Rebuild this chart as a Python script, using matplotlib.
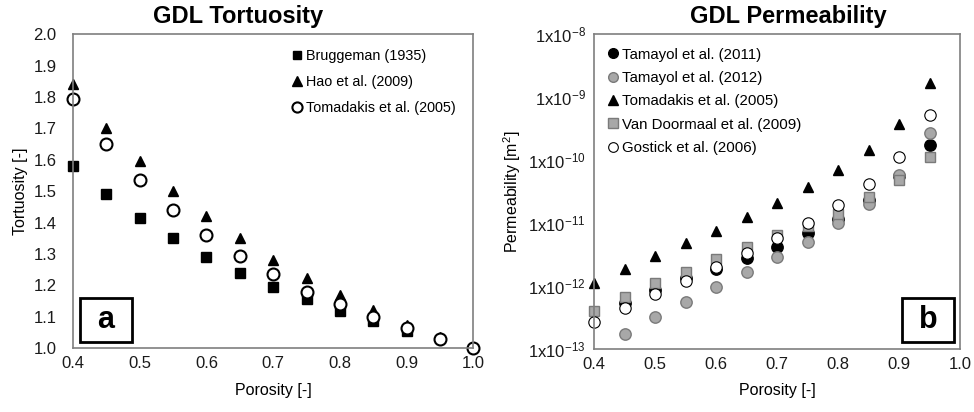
"""GDL tortuosity and permeability versus porosity, two side-by-side panels."""

import numpy as np
import matplotlib
matplotlib.use("Agg")
import matplotlib.pyplot as plt
from matplotlib.patches import Rectangle
from matplotlib.ticker import FixedLocator, NullLocator

plt.rcParams['font.family'] = ['Liberation Sans', 'DejaVu Sans']
plt.rcParams['mathtext.fontset'] = 'custom'
plt.rcParams['mathtext.rm'] = 'Liberation Sans'
plt.rcParams['mathtext.it'] = 'Liberation Sans'

########################################################################################################################
# Data
########################################################################################################################

# (a) tortuosity
por_brug = [0.40, 0.45, 0.50, 0.55, 0.60, 0.65, 0.70, 0.75, 0.80, 0.85, 0.90]
tau_brug = [1.58, 1.49, 1.415, 1.35, 1.29, 1.24, 1.195, 1.155, 1.118, 1.085, 1.054]

por_hao = [0.40, 0.45, 0.50, 0.55, 0.60, 0.65, 0.70, 0.75, 0.80, 0.85, 0.90, 0.95]
tau_hao = [1.84, 1.70, 1.595, 1.50, 1.42, 1.35, 1.28, 1.225, 1.17, 1.12, 1.075, 1.035]

por_toma = [0.40, 0.45, 0.50, 0.55, 0.60, 0.65, 0.70, 0.75, 0.80, 0.85, 0.90, 0.95, 1.00]
tau_toma = [1.795, 1.65, 1.535, 1.44, 1.36, 1.295, 1.235, 1.18, 1.14, 1.10, 1.063, 1.03, 1.00]

# (b) permeability [m^2]
por_b = [0.40, 0.45, 0.50, 0.55, 0.60, 0.65, 0.70, 0.75, 0.80, 0.85, 0.90, 0.95]
por_tam = por_b[1:]
k_tam2011 = [5.4e-13, 8.7e-13, 1.35e-12, 1.85e-12, 2.8e-12, 4.2e-12, 6.9e-12, 1.15e-11, 2.3e-11, 5.6e-11, 1.73e-10]
k_tam2012 = [1.7e-13, 3.2e-13, 5.6e-13, 9.8e-13, 1.66e-12, 2.9e-12, 5.0e-12, 1.0e-11, 2.0e-11, 5.8e-11, 2.7e-10]
k_toma = [1.1e-12, 1.85e-12, 3.0e-12, 4.8e-12, 7.4e-12, 1.26e-11, 2.1e-11, 3.7e-11, 6.9e-11, 1.45e-10, 3.7e-10, 1.67e-9]
k_vand = [4.0e-13, 6.8e-13, 1.1e-12, 1.7e-12, 2.7e-12, 4.2e-12, 6.5e-12, 8.9e-12, 1.4e-11, 2.6e-11, 4.8e-11, 1.12e-10]
k_gost = [2.7e-13, 4.5e-13, 7.4e-13, 1.2e-12, 2.0e-12, 3.4e-12, 5.7e-12, 1.0e-11, 1.95e-11, 4.2e-11, 1.12e-10, 5.2e-10]

perm_ticks = [1e-13, 1e-12, 1e-11, 1e-10, 1e-9, 1e-8]
perm_labels = [r'1x10$^{-13}$', r'1x10$^{-12}$', r'1x10$^{-11}$', r'1x10$^{-10}$', r'1x10$^{-9}$', r'1x10$^{-8}$']

########################################################################################################################
# Figure
########################################################################################################################

fig = plt.figure(figsize=(9.74, 4.12), dpi=100)
ax_a = fig.add_axes([0.075, 0.155, 0.411, 0.762])
ax_b = fig.add_axes([0.610, 0.153, 0.376, 0.764])

frame_col = '#7f7f7f'
gray_fill = '#a8a8a8'
gray_edge = '#7a7a7a'
for ax in (ax_a, ax_b):
    for s in ax.spines.values():
        s.set_color(frame_col)
        s.set_linewidth(1.2)
    ax.tick_params(length=0, labelsize=12, pad=6, colors='#1a1a1a')
    ax.set_xlim(0.4, 1.0)
    ax.set_xticks(np.arange(0.4, 1.01, 0.1))
    ax.set_xticklabels(['%.1f' % v for v in np.arange(0.4, 1.01, 0.1)])
    ax.set_xlabel('Porosity [-]', fontsize=11.5, labelpad=8)

def panel_tag(ax, x0, y0, w, h, letter):
    ax.add_patch(Rectangle((x0, y0), w, h, transform=ax.transAxes, fc='white', ec='black',
                           lw=2, zorder=5, clip_on=False))
    ax.text(x0 + w / 2, y0 + h / 2, letter, transform=ax.transAxes, fontsize=22,
            fontweight='bold', ha='center', va='center', zorder=6)

# ---- (a) tortuosity
ax_a.plot(por_brug, tau_brug, 's', ms=6.8, color='black', label='Bruggeman (1935)', clip_on=False)
ax_a.plot(por_hao, tau_hao, '^', ms=7.8, color='black', label='Hao et al. (2009)', clip_on=False)
ax_a.plot(por_toma, tau_toma, 'o', ms=8.6, mfc='white', mec='black', mew=1.5,
          label='Tomadakis et al. (2005)', clip_on=False)
ax_a.set_ylim(1.0, 2.0)
ax_a.set_yticks(np.arange(1.0, 2.01, 0.1))
ax_a.set_yticklabels(['%.1f' % v for v in np.arange(1.0, 2.01, 0.1)])
ax_a.tick_params(axis='y', pad=12)
ax_a.set_ylabel('Tortuosity [-]', fontsize=11.5, labelpad=4)
ax_a.legend(loc='upper right', frameon=False, fontsize=10.4, handletextpad=-0.35, labelspacing=0.85,
            markerscale=0.85, borderaxespad=0.4, bbox_to_anchor=(0.985, 0.99))
panel_tag(ax_a, 0.0175, 0.019, 0.13, 0.14, 'a')

# ---- (b) permeability
ax_b.set_yscale('log')
ax_b.plot(por_tam, k_tam2011, 'o', ms=8.2, color='black', label='Tamayol et al. (2011)', clip_on=False)
ax_b.plot(por_tam, k_tam2012, 'o', ms=8.2, mfc=gray_fill, mec=gray_edge, mew=1.0,
          label='Tamayol et al. (2012)', clip_on=False)
ax_b.plot(por_b, k_toma, '^', ms=7.8, color='black', label='Tomadakis et al. (2005)', clip_on=False)
ax_b.plot(por_b, k_vand, 's', ms=7.8, mfc=gray_fill, mec=gray_edge, mew=1.0,
          label='Van Doormaal et al. (2009)', clip_on=False)
ax_b.plot(por_b, k_gost, 'o', ms=8.2, mfc='white', mec='black', mew=0.8,
          label='Gostick et al. (2006)', clip_on=False)
ax_b.set_ylim(1e-13, 1e-8)
ax_b.yaxis.set_major_locator(FixedLocator(perm_ticks))
ax_b.yaxis.set_minor_locator(NullLocator())
ax_b.set_yticklabels(perm_labels)
ax_b.set_ylabel('Permeability [m$^2$]', fontsize=11.5, labelpad=4)
ax_b.legend(loc='upper left', frameon=False, fontsize=10.8, handletextpad=-0.45, labelspacing=0.62,
            markerscale=0.85, borderaxespad=0.5, bbox_to_anchor=(-0.025, 1.0))
panel_tag(ax_b, 0.8415, 0.022, 0.14, 0.14, 'b')

# panel titles sit over each half of the figure
fig.text(0.244, 0.961, 'GDL Tortuosity', fontsize=17, fontweight='bold', ha='center', va='center')
fig.text(0.809, 0.961, 'GDL Permeability', fontsize=17, fontweight='bold', ha='center', va='center')

fig.savefig('out.png', dpi=100)
